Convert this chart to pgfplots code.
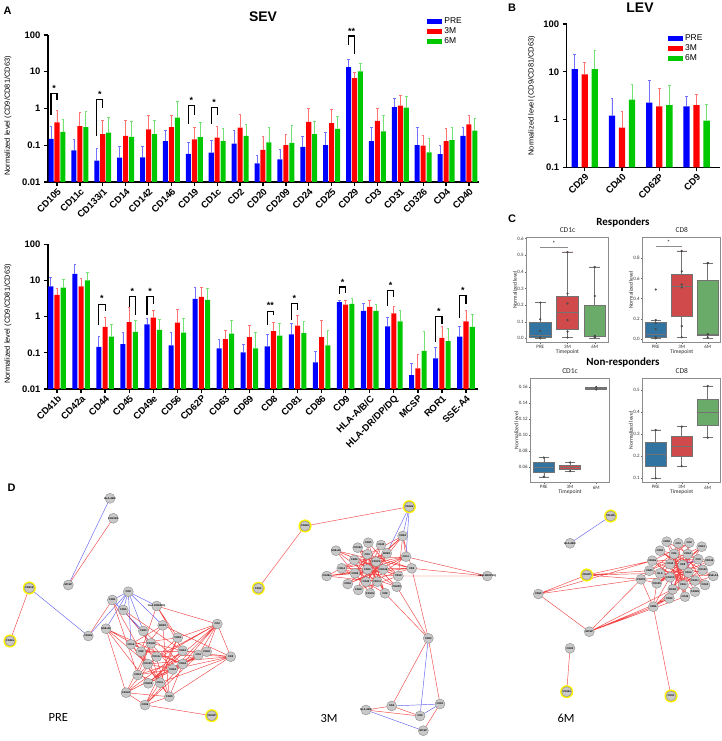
\documentclass[border=0pt]{standalone}
\usepackage{fontspec}
\setmainfont{Liberation Sans}
\newfontfamily\carlito{Carlito}
\usepackage{pgfplots}
\pgfplotsset{compat=1.18}
\usepackage{pgfplotstable}
\usepgfplotslibrary{statistics}

\definecolor{cB}{RGB}{0,0,255}
\definecolor{cR}{RGB}{255,0,0}
\definecolor{cG}{RGB}{0,200,0}
\definecolor{bB}{HTML}{3274A1}
\definecolor{bR}{HTML}{D0494B}
\definecolor{bG}{HTML}{6AAB6A}
\definecolor{nodefill}{RGB}{200,200,200}
\definecolor{edgeR}{RGB}{240,70,70}
\definecolor{edgeB}{RGB}{100,100,240}

\pgfplotstableread{
x pre preT tm tmT sm smT
0 0.15 0.32 0.42 0.90 0.23 0.50
1 0.073 0.14 0.33 0.78 0.31 0.85
2 0.038 0.08 0.20 0.46 0.22 0.58
3 0.046 0.095 0.18 0.47 0.17 0.45
4 0.047 0.092 0.27 0.65 0.20 0.47
5 0.13 0.25 0.31 0.63 0.56 1.6
6 0.058 0.12 0.145 0.30 0.165 0.42
7 0.063 0.135 0.16 0.33 0.13 0.29
8 0.11 0.26 0.30 0.67 0.18 0.38
9 0.032 0.053 0.075 0.17 0.12 0.31
10 0.041 0.078 0.10 0.20 0.116 0.34
11 0.09 0.17 0.43 1.0 0.20 0.45
12 0.10 0.22 0.40 0.94 0.28 0.60
13 13.4 21 6.7 9.8 10.2 16.8
14 0.13 0.31 0.46 1.0 0.24 0.64
15 1.09 1.87 1.2 2.3 1.06 2.1
16 0.10 0.30 0.098 0.18 0.064 0.15
17 0.057 0.10 0.13 0.28 0.137 0.31
18 0.18 0.31 0.37 0.63 0.25 0.54
}\sevA

\pgfplotstableread{
x pre preT tm tmT sm smT
0 6.9 12.2 4.0 6.1 6.3 11
1 15.1 27 6.9 11.5 10.1 16.5
2 0.145 0.29 0.52 0.98 0.28 0.61
3 0.175 0.37 0.70 1.81 0.377 0.79
4 0.61 0.9 0.94 1.5 0.43 0.84
5 0.16 0.37 0.68 1.6 0.36 0.9
6 3.1 6.5 3.5 6.5 2.9 6.0
7 0.133 0.24 0.24 0.42 0.34 0.79
8 0.103 0.172 0.27 0.59 0.133 0.37
9 0.15 0.33 0.40 0.70 0.30 0.63
10 0.325 0.63 0.56 1.07 0.35 0.74
11 0.054 0.112 0.27 0.79 0.16 0.42
12 2.5 2.9 2.15 2.8 2.24 3.1
13 1.44 2.3 1.85 2.8 1.44 2.2
14 0.54 0.98 1.24 1.93 0.74 1.5
15 0.024 0.051 0.037 0.093 0.114 0.385
16 0.070 0.142 0.26 0.54 0.21 0.48
17 0.28 0.54 0.74 1.47 0.52 1.16
}\sevB

\pgfplotstableread{
x pre preT tm tmT sm smT
0 11.4 23 8.8 15.7 11.4 28.5
1 1.21 2.76 0.68 1.47 2.6 5.5
2 2.27 6.6 1.88 4.46 2.0 5.3
3 1.88 3.04 2.0 3.3 0.95 2.07
}\lev

\pgfplotsset{
  mybar/.style 2 args={ybar, bar shift=0pt, bar width=#2, fill=#1, draw=none,
    error bars/y dir=plus, error bars/y explicit,
    error bars/error bar style={line width=0.8bp, #1!55},
    error bars/error mark options={rotate=90, mark size=1.3bp, line width=0.8bp, #1!55}},
  brk/.style={black, line width=1.2bp, mark=none, forget plot},
  sevax/.style={
    scale only axis,
    axis x line*=bottom, axis y line*=left,
    axis line style={line width=1.5bp, black},
    major tick style={black, line width=1.3bp},
    tick align=outside, major tick length=4bp,
    tick label style={font=\fontsize{9.5}{10}\selectfont\bfseries},
    xticklabel style={rotate=45, anchor=north east, inner sep=1bp},
    ylabel={Normalized level (CD9/CD81/CD63)},
    ylabel style={font=\fontsize{7.5}{8}\selectfont, anchor=center},
    clip=false,
    legend style={draw=none, fill=none, font=\fontsize{8.5}{9}\selectfont, row sep=-1.5bp, inner sep=0pt},
    legend cell align=left,
  },
  boxax/.style={
    scale only axis, xmin=-0.5, xmax=2.5, xtick={0,1,2}, xticklabels={PRE,3M,6M},
    boxplot/draw direction=y,
    axis line style={black!45, line width=0.8bp}, major tick style={black!60, line width=0.4bp},
    tick align=outside, major tick length=1.8bp, tick pos=left,
    /pgf/number format/assume math mode=true,
    tick label style={font=\carlito\fontsize{5}{6}\selectfont, text=black!80, inner sep=1bp},
    label style={font=\carlito\fontsize{5.6}{6}\selectfont, text=black!85},
    xlabel={Timepoint}, ylabel={Normalized level},
    xlabel style={yshift=3.5bp}, ylabel style={yshift=-4bp},
    title style={font=\carlito\fontsize{7.5}{8}\selectfont, yshift=-4.5bp, text=black!85},
  },
  bx/.style={draw=black!55, line width=0.5bp, solid},
  pts/.style={only marks, mark=*, mark size=0.9bp, draw=black!75, fill=black!55},
  netnode/.style={only marks, mark=*, mark size=5bp, mark options={fill=nodefill, draw=black!45, line width=0.4bp},
    nodes near coords, point meta=explicit symbolic,
    every node near coord/.append style={font=\fontsize{2.6}{3}\selectfont\bfseries, anchor=center, inner sep=0pt}},
  ring/.style={only marks, mark=*, mark size=6.3bp, mark options={fill=yellow, draw=yellow}},
  eR/.style={edgeR, line width=0.45bp, mark=none, unbounded coords=jump},
  eB/.style={edgeB, line width=0.45bp, mark=none, unbounded coords=jump},
}

\begin{document}
\begin{tikzpicture}[x=1bp,y=1bp]

% ---------------- Panel A, top ----------------
\begin{axis}[sevax, anchor=south west, at={(48bp,559bp)}, width=431bp, height=147bp,
  ymode=log, log origin=infty, yminorticks=false,
  ymin=0.01, ymax=100, ytick={0.01,0.1,1,10,100}, yticklabels={0.01,0.1,1,10,100},
  xmin=-0.393, xmax=18.44, xtick={0,...,18},
  xticklabels={CD105,CD11c,CD133/1,CD14,CD142,CD146,CD19,CD1c,CD2,CD20,CD209,CD24,CD25,CD29,CD3,CD31,CD326,CD4,CD40},
  ylabel style={at={(axis description cs:-0.093,0.45)}},
  legend image code/.code={\path[#1] (0bp,-2.6bp) rectangle (15bp,2.6bp);},
  legend style={at={(axis description cs:0.88,1.13)}, anchor=north west}]
\addplot[forget plot, mybar={cB}{0.22}] table[x expr=\thisrow{x}-0.26, y=pre, y error expr=\thisrow{preT}-\thisrow{pre}] {\sevA};
\addplot[forget plot, mybar={cR}{0.22}] table[x=x, y=tm, y error expr=\thisrow{tmT}-\thisrow{tm}] {\sevA};
\addplot[forget plot, mybar={cG}{0.22}] table[x expr=\thisrow{x}+0.26, y=sm, y error expr=\thisrow{smT}-\thisrow{sm}] {\sevA};
\addplot[brk] coordinates {(-0.26,0.66)(-0.26,2.6)(0,2.6)(0,1.7)};
\addplot[brk] coordinates {(1.74,0.176)(1.74,1.76)(2,1.76)(2,1.0)};
\addplot[brk] coordinates {(5.74,0.39)(5.74,1.23)(6,1.23)(6,0.66)};
\addplot[brk] coordinates {(6.74,0.39)(6.74,1.06)(7,1.06)(7,0.66)};
\addplot[brk] coordinates {(12.74,53)(12.74,94)(13,94)(13,29.7)};
\node[font=\fontsize{9}{9}\selectfont\bfseries, yshift=-2bp] at (axis cs:-0.13,4.1) {*};
\node[font=\fontsize{9}{9}\selectfont\bfseries, yshift=-2bp] at (axis cs:1.87,2.8) {*};
\node[font=\fontsize{9}{9}\selectfont\bfseries, yshift=-2bp] at (axis cs:5.87,1.9) {*};
\node[font=\fontsize{9}{9}\selectfont\bfseries, yshift=-2bp] at (axis cs:6.87,1.7) {*};
\node[font=\fontsize{9}{9}\selectfont\bfseries, yshift=-2bp] at (axis cs:12.87,142) {**};
\addlegendimage{fill=cB,draw=none}\addlegendentry{PRE}
\addlegendimage{fill=cR,draw=none}\addlegendentry{3M}
\addlegendimage{fill=cG,draw=none}\addlegendentry{6M}
\end{axis}

% ---------------- Panel A, bottom ----------------
\begin{axis}[sevax, anchor=south west, at={(48bp,352bp)}, width=430bp, height=144.7bp,
  ymode=log, log origin=infty, yminorticks=false,
  ymin=0.01, ymax=100, ytick={0.01,0.1,1,10,100}, yticklabels={0.01,0.1,1,10,100},
  xmin=-0.374, xmax=17.5, xtick={0,...,17},
  xticklabels={CD41b,CD42a,CD44,CD45,CD49e,CD56,CD62P,CD63,CD69,CD8,CD81,CD86,CD9,HLA-A/B/C,HLA-DR/DP/DQ,MCSP,ROR1,SSE-A4},
  ylabel style={at={(axis description cs:-0.093,0.45)}}]
\addplot[forget plot, mybar={cB}{0.21}] table[x expr=\thisrow{x}-0.26, y=pre, y error expr=\thisrow{preT}-\thisrow{pre}] {\sevB};
\addplot[forget plot, mybar={cR}{0.21}] table[x=x, y=tm, y error expr=\thisrow{tmT}-\thisrow{tm}] {\sevB};
\addplot[forget plot, mybar={cG}{0.21}] table[x expr=\thisrow{x}+0.26, y=sm, y error expr=\thisrow{smT}-\thisrow{sm}] {\sevB};
\addplot[brk] coordinates {(1.74,0.59)(1.74,2.2)(2,2.2)(2,1.43)};
\addplot[brk] coordinates {(3,1.9)(3,3.6)(3.26,3.6)(3.26,1.1)};
\addplot[brk] coordinates {(3.74,1.1)(3.74,3.6)(4,3.6)(4,2.3)};
\addplot[brk] coordinates {(8.74,0.59)(8.74,1.4)(9,1.4)(9,1.1)};
\addplot[brk] coordinates {(9.74,0.83)(9.74,2.3)(10,2.3)(10,1.5)};
\addplot[brk] coordinates {(11.74,4.2)(11.74,6.6)(12,6.6)(12,4.4)};
\addplot[brk] coordinates {(13.74,2.0)(13.74,5.2)(14,5.2)(14,3.4)};
\addplot[brk] coordinates {(15.74,0.20)(15.74,1.0)(16,1.0)(16,0.63)};
\addplot[brk] coordinates {(16.74,0.9)(16.74,3.8)(17,3.8)(17,2.3)};
\node[font=\fontsize{9}{9}\selectfont\bfseries, yshift=-2bp] at (axis cs:1.87,3.6) {*};
\node[font=\fontsize{9}{9}\selectfont\bfseries, yshift=-2bp] at (axis cs:3.13,5.8) {*};
\node[font=\fontsize{9}{9}\selectfont\bfseries, yshift=-2bp] at (axis cs:3.87,5.8) {*};
\node[font=\fontsize{9}{9}\selectfont\bfseries, yshift=-2bp] at (axis cs:8.87,2.3) {**};
\node[font=\fontsize{9}{9}\selectfont\bfseries, yshift=-2bp] at (axis cs:9.87,3.7) {*};
\node[font=\fontsize{9}{9}\selectfont\bfseries, yshift=-2bp] at (axis cs:11.87,10.3) {*};
\node[font=\fontsize{9}{9}\selectfont\bfseries, yshift=-2bp] at (axis cs:13.87,8.2) {*};
\node[font=\fontsize{9}{9}\selectfont\bfseries, yshift=-2bp] at (axis cs:15.87,1.6) {*};
\node[font=\fontsize{9}{9}\selectfont\bfseries, yshift=-2bp] at (axis cs:16.87,6.1) {*};
\end{axis}

% ---------------- Panel B ----------------
\begin{axis}[sevax, anchor=south west, at={(566.7bp,573.7bp)}, width=153.3bp, height=143.3bp,
  ymode=log, log origin=infty, yminorticks=false,
  ymin=0.1, ymax=100, ytick={0.1,1,10,100}, yticklabels={0.1,1,10,100},
  xmin=-0.484, xmax=3.63, xtick={0,...,3}, xticklabels={CD29,CD40,CD62P,CD9},
  ylabel style={at={(axis description cs:-0.228,0.5)}},
  legend image code/.code={\path[#1] (0bp,-2.6bp) rectangle (15bp,2.6bp);},
  legend style={at={(axis description cs:0.66,0.94)}, anchor=north west}]
\addplot[forget plot, mybar={cB}{0.17}] table[x expr=\thisrow{x}-0.27, y=pre, y error expr=\thisrow{preT}-\thisrow{pre}] {\lev};
\addplot[forget plot, mybar={cR}{0.17}] table[x=x, y=tm, y error expr=\thisrow{tmT}-\thisrow{tm}] {\lev};
\addplot[forget plot, mybar={cG}{0.17}] table[x expr=\thisrow{x}+0.27, y=sm, y error expr=\thisrow{smT}-\thisrow{sm}] {\lev};
\addlegendimage{fill=cB,draw=none}\addlegendentry{PRE}
\addlegendimage{fill=cR,draw=none}\addlegendentry{3M}
\addlegendimage{fill=cG,draw=none}\addlegendentry{6M}
\end{axis}

% ---------------- Panel C ----------------
\begin{axis}[boxax, anchor=south west, at={(526.7bp,399bp)}, width=81.6bp, height=104.3bp, ymin=-0.022, ymax=0.606,
  ytick={0,0.1,0.2,0.3,0.4,0.5,0.6}, title={CD1c},
  yticklabel style={/pgf/number format/.cd, fixed, fixed zerofill, precision=1}]
\addplot[bx, fill=bB, boxplot prepared={draw position=0, lower whisker=0, lower quartile=0.005, median=0.02, upper quartile=0.098, upper whisker=0.215, box extend=0.8, whisker extend=0.4}] coordinates {};
\addplot[bx, fill=bR, boxplot prepared={draw position=1, lower whisker=0.005, lower quartile=0.055, median=0.16, upper quartile=0.255, upper whisker=0.52, box extend=0.8, whisker extend=0.4}] coordinates {};
\addplot[bx, fill=bG, boxplot prepared={draw position=2, lower whisker=0.003, lower quartile=0.01, median=0.012, upper quartile=0.2, upper whisker=0.43, box extend=0.8, whisker extend=0.4}] coordinates {};
\addplot[pts] coordinates {(0,0.215)(0,0.115)(0,0.045)(0,0.005)(0,0.0)(1,0.52)(1,0.27)(1,0.21)(1,0.11)(1,0.04)(1,0.005)(2,0.43)(2,0.255)(2,0.015)(2,0.01)(2,0.005)};
\addplot[black!45, line width=0.6bp, mark=none] coordinates {(0,0.55)(1,0.55)};
\node[font=\carlito\fontsize{6}{6}\selectfont] at (axis cs:0.5,0.572) {*};
\end{axis}

\begin{axis}[boxax, anchor=south west, at={(642.7bp,399bp)}, width=78bp, height=104.3bp, ymin=-0.026, ymax=1.0,
  ytick={0,0.2,0.4,0.6,0.8}, title={CD8},
  yticklabel style={/pgf/number format/.cd, fixed, fixed zerofill, precision=1}]
\addplot[bx, fill=bB, boxplot prepared={draw position=0, lower whisker=0.01, lower quartile=0.02, median=0.05, upper quartile=0.17, upper whisker=0.19, box extend=0.8, whisker extend=0.4}] coordinates {};
\addplot[bx, fill=bR, boxplot prepared={draw position=1, lower whisker=0.02, lower quartile=0.23, median=0.52, upper quartile=0.64, upper whisker=0.87, box extend=0.8, whisker extend=0.4}] coordinates {};
\addplot[bx, fill=bG, boxplot prepared={draw position=2, lower whisker=0.01, lower quartile=0.04, median=0.05, upper quartile=0.58, upper whisker=0.75, box extend=0.8, whisker extend=0.4}] coordinates {};
\addplot[pts] coordinates {(0,0.49)(0,0.19)(0,0.16)(0,0.1)(0,0.02)(0,0.01)(1,0.87)(1,0.67)(1,0.54)(1,0.51)(1,0.13)(1,0.02)(2,0.75)(2,0.75)(2,0.05)(2,0.05)(2,0.02)};
\addplot[black!45, line width=0.6bp, mark=none] coordinates {(0,0.92)(1,0.92)};
\node[font=\carlito\fontsize{6}{6}\selectfont] at (axis cs:0.5,0.955) {*};
\end{axis}

\begin{axis}[boxax, anchor=south west, at={(530.7bp,258.3bp)}, width=78.6bp, height=104.4bp, ymin=0.0407, ymax=0.171,
  ytick={0.06,0.08,0.10,0.12,0.14,0.16}, title={CD1c},
  yticklabel style={/pgf/number format/.cd, fixed, fixed zerofill, precision=2}]
\addplot[bx, fill=bB, boxplot prepared={draw position=0, lower whisker=0.048, lower quartile=0.054, median=0.060, upper quartile=0.066, upper whisker=0.072, box extend=0.8, whisker extend=0.4}] coordinates {};
\addplot[bx, fill=bR, boxplot prepared={draw position=1, lower whisker=0.055, lower quartile=0.057, median=0.060, upper quartile=0.063, upper whisker=0.066, box extend=0.8, whisker extend=0.4}] coordinates {};
\addplot[bx, fill=bG, boxplot prepared={draw position=2, lower whisker=0.157, lower quartile=0.1578, median=0.1585, upper quartile=0.1592, upper whisker=0.160, box extend=0.8, whisker extend=0.4}] coordinates {};
\addplot[pts] coordinates {(0,0.072)(0,0.048)(1,0.066)(1,0.055)(2,0.160)(2,0.157)};
\end{axis}

\begin{axis}[boxax, anchor=south west, at={(642.7bp,258.3bp)}, width=78bp, height=104.4bp, ymin=0.08, ymax=0.555,
  ytick={0.1,0.2,0.3,0.4,0.5}, title={CD8},
  yticklabel style={/pgf/number format/.cd, fixed, fixed zerofill, precision=1}]
\addplot[bx, fill=bB, boxplot prepared={draw position=0, lower whisker=0.1, lower quartile=0.155, median=0.21, upper quartile=0.265, upper whisker=0.32, box extend=0.8, whisker extend=0.4}] coordinates {};
\addplot[bx, fill=bR, boxplot prepared={draw position=1, lower whisker=0.155, lower quartile=0.20, median=0.245, upper quartile=0.29, upper whisker=0.335, box extend=0.8, whisker extend=0.4}] coordinates {};
\addplot[bx, fill=bG, boxplot prepared={draw position=2, lower whisker=0.285, lower quartile=0.34, median=0.40, upper quartile=0.46, upper whisker=0.52, box extend=0.8, whisker extend=0.4}] coordinates {};
\addplot[pts] coordinates {(0,0.32)(0,0.1)(1,0.335)(1,0.155)(2,0.52)(2,0.285)};
\end{axis}

% ---------------- Panel D ----------------
\begin{axis}[scale only axis, anchor=south west, at={(0bp,0bp)}, width=722bp, height=246bp,
  xmin=0, xmax=722, ymin=495, ymax=741, y dir=reverse, hide axis, clip=false]
\addplot[eB] coordinates {(110,498.3)(68.3,585) (nan,nan) (29.3,588)(88.3,636) (nan,nan) (88.3,636)(128.3,591.7)
 (nan,nan) (128.3,591.7)(112.3,600) (nan,nan) (128.3,591.7)(123.3,610) (nan,nan) (128.3,591.7)(106,628.7)
 (nan,nan) (128.3,591.7)(143.3,631) (nan,nan) (128.3,591.7)(156.7,606) (nan,nan) (128.3,591.7)(162.7,625.3)
 (nan,nan) (128.3,591.7)(131,644.3) (nan,nan) (112.3,600)(143.3,631) (nan,nan) (123.3,610)(151,643.3)};
\addplot[eR] coordinates {(113.3,518.3)(68.3,585) (nan,nan) (29.3,588)(10,641) (nan,nan) (145,705)(211.7,715.7) (nan,nan) (88.3,636)(112.3,600)};
\addplot[eR] coordinates {(106,628.7)(126,692.7)(145,705)(169.3,696.7)(182.7,664)(217.3,624)(230.7,656.7)(182.7,650.7)(151,643.3)(137.7,675)(160,682.7)(177.7,637.7)(217.3,624)(206.7,651.7)(172.7,669.3)(147.7,664)(131,644.3)(162.7,625.3)(230.7,656.7)(198.3,655)(156.7,656.7)(106,628.7)(148.3,683.3)(182.7,650.7)(156.7,606)(141,651.7)(169.3,696.7)(126,692.7)(156.7,656.7)(217.3,624)(172.7,669.3)(137.7,675)(177.7,637.7)(145,705)(160,682.7)(131,644.3)(182.7,664)(106,628.7)(147.7,664)(217.3,624)(148.3,683.3)(206.7,651.7)(141,651.7)(162.7,625.3)(169.3,696.7)(151,643.3)(126,692.7)(182.7,650.7)(123.3,610)(172.7,669.3)(230.7,656.7)(160,682.7)(143.3,631)(182.7,664)(145,705)(198.3,655)(217.3,624)(156.7,606)(177.7,637.7)(131,644.3)(169.3,696.7)(230.7,656.7)(147.7,664)(112.3,600)(137.7,675)(198.3,655)(126,692.7)(206.7,651.7)(148.3,683.3)};
\addplot[eR] coordinates {(305,526)(258.3,588.3) (nan,nan) (305,526)(409.3,506.7) (nan,nan) (402.7,536)(406,556.7) (nan,nan) (402.7,536)(411.7,568.3)
 (nan,nan) (402.7,536)(398.3,576) (nan,nan) (406,556.7)(487.3,576) (nan,nan) (411.7,568.3)(487.3,576) (nan,nan) (398.3,576)(487.3,576)
 (nan,nan) (411.7,568.3)(428.3,638.3) (nan,nan) (396.7,586.7)(428.3,638.3) (nan,nan) (385,593.3)(428.3,638.3) (nan,nan) (428.3,638.3)(391.7,706)
 (nan,nan) (428.3,638.3)(440,704) (nan,nan) (391.7,706)(366,710) (nan,nan) (366,710)(420,716) (nan,nan) (440,704)(423.3,730.7) (nan,nan) (391.7,706)(420,716)};
\addplot[eB] coordinates {(409.3,506.7)(402.7,536) (nan,nan) (409.3,506.7)(386.7,553.3) (nan,nan) (409.3,506.7)(406,556.7) (nan,nan) (428.3,638.3)(420,716)
 (nan,nan) (391.7,706)(440,704) (nan,nan) (366,710)(423.3,730.7) (nan,nan) (440,704)(420,716)};
\addplot[eR] coordinates {(336,550.7)(411.7,568.3)(326.7,576)(402.7,536)(347.7,584)(406,556.7)(341.7,568.3)(396.7,586.7)(357.7,547.7)(385,593.3)(368.3,542.7)(358.3,590)(381,545)(370,593.3)(386.7,553.3)(366,581.7)(354.3,560)(398.3,576)(336,550.7)(377.3,581.7)(367.3,554.3)(355,573.3)(411.7,568.3)(341.7,568.3)(376,561.7)(347.7,584)(402.7,536)(367.3,569.3)(326.7,576)(383.3,569.3)(357.7,547.7)(396.7,586.7)(354.3,560)(406,556.7)(358.3,590)(381,545)(355,573.3)(398.3,576)(368.3,542.7)(370,593.3)(336,550.7)(383.3,569.3)(347.7,584)(386.7,553.3)(341.7,568.3)(385,593.3)(367.3,554.3)(411.7,568.3)(366,581.7)(402.7,536)(326.7,576)(377.3,581.7)(357.7,547.7)(398.3,576)(358.3,590)(406,556.7)(367.3,569.3)};
\addplot[eR] coordinates {(586.7,575)(652.3,560.7) (nan,nan) (586.7,575)(649.3,570.7) (nan,nan) (586.7,575)(660,573.3) (nan,nan) (586.7,575)(641,579.3)
 (nan,nan) (586.7,575)(538.3,594) (nan,nan) (538.3,594)(641,579.3) (nan,nan) (538.3,594)(652.3,560.7) (nan,nan) (538.3,594)(589.3,631.7)
 (nan,nan) (641,579.3)(589.3,631.7) (nan,nan) (641,579.3)(653.3,606.7) (nan,nan) (589.3,631.7)(653.3,606.7) (nan,nan) (589.3,631.7)(669.3,598.3)
 (nan,nan) (589.3,631.7)(685,596.7) (nan,nan) (589.3,631.7)(672.7,589.3) (nan,nan) (653.3,606.7)(671,696) (nan,nan) (570,648.3)(566.7,691.7)
 (nan,nan) (653.3,606.7)(656.7,583.3) (nan,nan) (653.3,606.7)(672.7,589.3) (nan,nan) (653.3,606.7)(669.3,598.3) (nan,nan) (653.3,606.7)(683.3,585)
 (nan,nan) (653.3,606.7)(670,577.3) (nan,nan) (641,579.3)(656.7,583.3) (nan,nan) (641,579.3)(649.3,570.7) (nan,nan) (641,579.3)(670,577.3)};
\addplot[eR] coordinates {(666.7,541.7)(698.3,559.3)(652.3,560.7)(689.3,542.7)(649.3,570.7)(701.7,546.7)(656.7,583.3)(709.3,561)(660,550.7)(705,585)(678.3,543.3)(669.3,598.3)(687.7,554)(660,573.3)(713.3,576)(670,564)(685,596.7)(674,554)(695,591.7)(652.3,560.7)(702.7,570)(670,577.3)(701.7,546.7)(672.7,589.3)(689.3,542.7)(683.3,585)(666.7,541.7)(695,580.7)(649.3,570.7)(688.3,572.7)(660,550.7)(682.7,565)(656.7,583.3)(698.3,559.3)(669.3,598.3)(709.3,561)(670,564)(705,585)(660,573.3)(678.3,543.3)(685,596.7)(687.7,554)(672.7,589.3)(713.3,576)(674,554)(683.3,585)(652.3,560.7)(695,580.7)};
\addplot[eB] coordinates {(610.7,516)(570,543.3)};
\addplot[edgeB!70!red, line width=0.6bp, mark=none, unbounded coords=jump] coordinates {(682.7,565)(698.3,559.3) (nan,nan) (698.3,559.3)(702.7,570) (nan,nan) (670,577.3)(672.7,589.3) (nan,nan) (687.7,554)(688.3,572.7)};
\addplot[ring] coordinates {(29.3,588)(10,641)(211.7,715.7)(409.3,506.7)(305,526)(258.3,588.3)(610.7,516)(586.7,575)(566.7,691.7)(671,696)};
\addplot[netnode] table[meta=lab] {
x y lab
110 498.3 HLA-ABC
113.3 518.3 CD133/1
68.3 585 MCSP
88.3 636 CD49e
128.3 591.7 CD9
112.3 600 CD81
123.3 610 CD56
156.7 606 HLA-DRDPDQ
106 628.7 SSE-A4
143.3 631 CD20
162.7 625.3 ROR1
177.7 637.7 CD69
217.3 624 CD3
151 643.3 CD146
131 644.3 CD14
141 651.7 CD8
182.7 650.7 CD63
198.3 655 CD4
206.7 651.7 CD45
230.7 656.7 CD2
156.7 656.7 CD11c
147.7 664 CD105
182.7 664 CD44
172.7 669.3 CD24
137.7 675 CD19
148.3 683.3 CD209
160 682.7 CD1c
126 692.7 CD142
169.3 696.7 CD25
145 705 CD86
29.3 588 CD41b
10 641 CD42a
211.7 715.7 CD62P
};
\addplot[netnode] table[meta=lab] {
x y lab
409.3 506.7 CD42a
305 526 CD41b
258.3 588.3 CD31
402.7 536 CD63
336 550.7 SSE-A4
357.7 547.7 CD142
368.3 542.7 CD25
381 545 CD40
386.7 553.3 ROR1
406 556.7 CD1c
354.3 560 CD44
367.3 554.3 CD3
376 561.7 CD133
383.3 569.3 CD146
341.7 568.3 CD14
411.7 568.3 CD2
326.7 576 CD49e
355 573.3 CD86
367.3 569.3 CD24
398.3 576 CD19
347.7 584 CD56
366 581.7 CD45
377.3 581.7 CD11c
396.7 586.7 CD209
358.3 590 CD69
370 593.3 CD105
385 593.3 CD8
487.3 576 HLA-DRDPDQ
428.3 638.3 CD20
391.7 706 CD4
440 704 CD81
420 716 CD9
366 710 HLA-ABC
423.3 730.7 MCSP
};
\addplot[netnode] table[meta=lab] {
x y lab
610.7 516 CD41b
570 543.3 HLA-ABC
586.7 575 CD62P
538.3 594 CD69
641 579.3 CD209
653.3 606.7 CD86
589.3 631.7 MCSP
570 648.3 CD25
566.7 691.7 CD42a
671 696 CD31
666.7 541.7 CD56
678.3 543.3 CD3
689.3 542.7 CD2
701.7 546.7 CD19
660 550.7 CD81
674 554 CD4
687.7 554 CD24
698.3 559.3 CD9
709.3 561 CD146
652.3 560.7 CD49e
670 564 CD44
682.7 565 CD8
702.7 570 CD142
649.3 570.7 CD40
660 573.3 HLA
688.3 572.7 CD14
713.3 576 SSE-A4
656.7 583.3 CD105
670 577.3 CD133
695 580.7 CD11c
683.3 585 CD1c
705 585 CD63
672.7 589.3 ROR1
669.3 598.3 CD20
685 596.7 CD45
695 591.7 CD326
};
\end{axis}

\node[font=\fontsize{11}{11}\selectfont\bfseries] at (7.5,730.5) {A};
\node[font=\fontsize{11}{11}\selectfont\bfseries] at (512,733) {B};
\node[font=\fontsize{11}{11}\selectfont\bfseries] at (512,522.7) {C};
\node[font=\fontsize{11}{11}\selectfont\bfseries] at (11.5,253.3) {D};
\node[font=\fontsize{14}{14}\selectfont\bfseries] at (263,724) {SEV};
\node[font=\fontsize{14}{14}\selectfont\bfseries] at (640,733.5) {LEV};
\node[font=\carlito\fontsize{11}{11}\selectfont\bfseries] at (623,518) {Responders};
\node[font=\carlito\fontsize{11}{11}\selectfont\bfseries] at (623,378) {Non-responders};
\node[font=\carlito\fontsize{12.5}{13}\selectfont] at (58.3,23.3) {PRE};
\node[font=\carlito\fontsize{12.5}{13}\selectfont] at (329,22.7) {3M};
\node[font=\carlito\fontsize{12.5}{13}\selectfont] at (566,22.7) {6M};

\pgfresetboundingbox
\useasboundingbox (0,0) rectangle (722,741);
\end{tikzpicture}
\end{document}
